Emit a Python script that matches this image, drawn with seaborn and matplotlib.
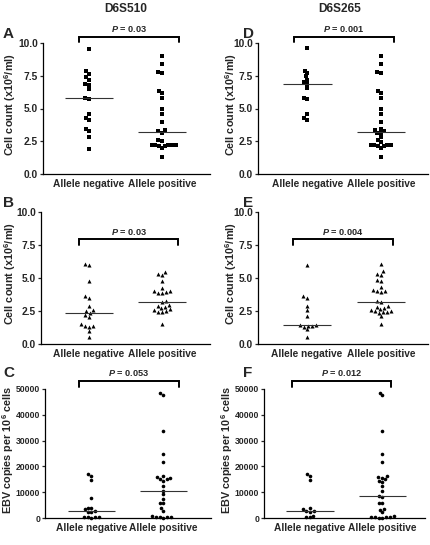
import numpy as np
import pandas as pd
import matplotlib
matplotlib.use('Agg')
import matplotlib.pyplot as plt
from matplotlib.ticker import FormatStrFormatter
import seaborn as sns

sns.set_theme(style='ticks')
plt.rcParams['font.family'] = ['Liberation Sans', 'DejaVu Sans']
plt.rcParams.update({
    'font.weight': 'bold',
    'mathtext.fontset': 'custom',
    'mathtext.rm': 'Liberation Sans:bold',
    'mathtext.bf': 'Liberation Sans:bold',
    'mathtext.it': 'Liberation Sans:bold:italic',
})

groups = ['Allele negative', 'Allele positive']
markers = ['D6S510', 'D6S265']

# cell count (x10^6/ml), squares
a_neg = [9.55, 7.85, 7.65, 7.4, 7.2, 6.85, 6.8, 6.5, 5.8, 5.7, 4.6, 4.25, 4.1, 3.4, 3.25, 2.8, 1.9]
a_pos = [9.0, 8.4, 7.8, 7.7, 6.35, 6.2, 5.8, 4.95, 4.55, 4.0, 3.35, 3.25, 3.15,
         2.6, 2.5, 2.25, 2.2, 2.2, 2.2, 2.15, 2.1, 2.25, 1.95, 1.3]
d_neg = [9.6, 7.9, 7.7, 7.45, 7.2, 7.0, 6.85, 6.55, 5.8, 5.7, 4.6, 4.3, 4.15]
d_pos = [9.0, 8.4, 7.8, 7.7, 6.35, 6.2, 5.8, 4.95, 4.55, 4.0, 3.4, 3.35, 3.25, 3.15,
         3.1, 2.8, 2.6, 2.45, 2.25, 2.2, 2.2, 2.2, 2.15, 2.1, 1.95, 1.3]

# cell count (x10^6/ml), triangles
b_neg = [6.05, 5.95, 4.8, 3.6, 3.45, 2.9, 2.55, 2.5, 2.35, 2.2, 2.05, 1.5, 1.4, 1.35, 1.3, 0.95, 0.55]
b_pos = [5.45, 5.3, 5.25, 4.8, 4.25, 4.05, 4.0, 3.95, 3.9, 3.85, 3.25, 3.15,
         2.95, 2.9, 2.8, 2.7, 2.65, 2.55, 2.5, 2.45, 2.4, 1.5]
e_neg = [6.0, 3.6, 3.45, 2.9, 2.55, 2.1, 1.45, 1.45, 1.4, 1.4, 1.3, 1.1, 0.55]
e_pos = [6.05, 5.5, 5.3, 5.25, 4.85, 4.8, 4.3, 4.1, 4.05, 4.0, 3.95, 3.25, 3.2,
         2.9, 2.8, 2.75, 2.65, 2.55, 2.5, 2.5, 2.45, 2.4, 2.35, 2.1, 1.5]

# EBV copies per 10^6 cells, circles
c_neg = [17000, 16200, 14700, 7900, 4000, 3700, 3300, 2700, 2500, 2200, 500, 400, 300, 200, 100]
c_pos = [48300, 47500, 33800, 24700, 21600, 16300, 15800, 15500, 15200, 15000, 14500, 12400,
         10600, 9200, 7500, 6000, 5800, 3700, 2600, 700, 500, 400, 300, 200, 100]
f_neg = [17000, 16200, 14800, 3700, 3300, 2800, 2600, 2300, 900, 500, 200]
f_pos = [48600, 47700, 33800, 24700, 21600, 16300, 16000, 15500, 15000, 14500, 14000, 12400,
         10400, 8600, 8000, 6000, 5800, 3600, 3200, 2300, 700, 500, 400, 300, 200, 100, 0]

p_values = {'A': '0.03', 'B': '0.03', 'C': '0.053', 'D': '0.001', 'E': '0.004', 'F': '0.012'}

W, H = 431, 545
fig = plt.figure(figsize=(W / 100, H / 100), dpi=100)

# pixel layout: left spine, right end, top, bottom, centre of cat 0 / cat 1
geom = {
    'A': (43, 210, 43, 174, 89, 162),
    'B': (41, 210, 212, 344, 89, 162),
    'C': (45, 211, 389, 518, 91.5, 163.5),
    'D': (258, 428, 43, 174, 307.5, 381),
    'E': (258, 428, 212, 344, 307, 381),
    'F': (264, 425, 389, 518, 310, 382.5),
}
# bracket x ends (px)
brx = {'A': (79, 179), 'B': (79, 178), 'C': (79, 179),
       'D': (294, 394), 'E': (293, 393), 'F': (292, 391)}
# bracket top, bracket end, text centre (data units)
bry = {'cell_hi': (10.45, 10.05, 11.1), 'cell_lo': (7.95, 7.5, 8.5),
       'ebv': (52950, 50780, 56300)}
letter_y = {'A': 27, 'D': 27, 'B': 196, 'E': 196, 'C': 366, 'F': 366}
label_x = {'A': 18, 'B': 18, 'C': 16, 'D': 239, 'E': 239, 'F': 235}

panels = [
    ('A', a_neg, a_pos, 's', 'cell', 'cell_hi'),
    ('B', b_neg, b_pos, '^', 'cell', 'cell_lo'),
    ('C', c_neg, c_pos, 'o', 'ebv', 'ebv'),
    ('D', d_neg, d_pos, 's', 'cell', 'cell_hi'),
    ('E', e_neg, e_pos, '^', 'cell', 'cell_lo'),
    ('F', f_neg, f_pos, 'o', 'ebv', 'ebv'),
]

for key, neg, pos, mk, kind, bk in panels:
    L, R, T, B, c0, c1 = geom[key]
    ax = fig.add_axes([L / W, 1 - B / H, (R - L) / W, (B - T) / H])
    df = pd.DataFrame({'group': [groups[0]] * len(neg) + [groups[1]] * len(pos),
                       'value': neg + pos})
    sns.swarmplot(data=df, x='group', y='value', order=groups, color='black',
                  marker=mk, size=2.6 if mk != '^' else 2.9, linewidth=0, ax=ax)
    for coll in ax.collections:
        coll.set_clip_on(False)
    for i, vals in enumerate([neg, pos]):
        ax.hlines(np.median(vals), i - 0.33, i + 0.33, color='#333333', lw=0.8, zorder=3)

    unit = c1 - c0
    ax.set_xlim((L - c0) / unit, (R - c0) / unit)
    if kind == 'cell':
        ax.set_ylim(0, 10)
        ax.set_yticks([0, 2.5, 5.0, 7.5, 10.0])
        ax.yaxis.set_major_formatter(FormatStrFormatter('%.1f'))
        ax.set_ylabel('Cell count (x10$^{\\mathbf{6}}$/ml)', fontsize=7.8, fontweight='bold')
        ysize = 7.4
    else:
        ax.set_ylim(0, 50000)
        ax.set_yticks([0, 10000, 20000, 30000, 40000, 50000])
        ax.yaxis.set_major_formatter(FormatStrFormatter('%d'))
        ax.set_ylabel('EBV copies per 10$^{\\mathbf{6}}$ cells', fontsize=7.8, fontweight='bold')
        ysize = 6.2
    ax.set_xlabel('')
    sns.despine(ax=ax)
    for s in ['left', 'bottom']:
        ax.spines[s].set_linewidth(0.9)
        ax.spines[s].set_color('black')
    ax.tick_params(axis='y', direction='out', length=2.5, width=0.9, labelsize=ysize, pad=1.0)
    ax.tick_params(axis='x', length=0, labelsize=7.3, pad=3.5)
    for lab in ax.get_xticklabels() + ax.get_yticklabels():
        lab.set_fontweight('bold')
    ax.yaxis.set_label_coords((label_x[key] - L) / (R - L), 0.53)

    # significance bracket
    x0 = (brx[key][0] - c0) / unit
    x1 = (brx[key][1] - c0) / unit
    ytop, yend, ytxt = bry[bk]
    ax.plot([x0, x0, x1, x1], [yend, ytop, ytop, yend], color='black', lw=1.4,
            clip_on=False, solid_joinstyle='miter')
    ax.text((x0 + x1) / 2, ytxt, '$P$ = ' + p_values[key], ha='center', va='center',
            fontsize=6.6, fontweight='bold', clip_on=False)

    # panel letter
    fig.text((3 if key in 'ABC' else 243) / W, 1 - letter_y[key] / H,
             key, ha='left', va='top', fontsize=11, fontweight='heavy')

for name, cx in zip(markers, [125.5, 340]):
    fig.text(cx / W, 1 - 9 / H, name, ha='center', va='center', fontsize=8.6, fontweight='bold')

fig.savefig('out.png', dpi=100)
